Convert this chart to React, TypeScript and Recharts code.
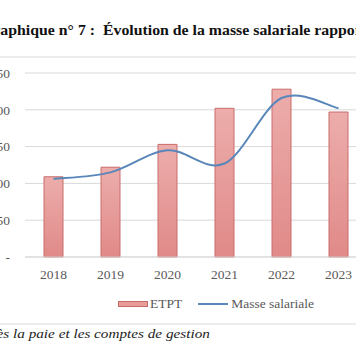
import React from "react";
import { Bar, ComposedChart, CartesianGrid, Line, XAxis, YAxis } from "recharts";

const YEARS = ["2018", "2019", "2020", "2021", "2022", "2023"];
const ETPT = [109, 122, 153, 202, 228, 197];
const MASSE_SALARIALE = [106, 115, 145, 127, 216, 202];
const Y_TICKS = [0, 50, 100, 150, 200, 250];

const data = YEARS.map((year, i) => ({
  year,
  etpt: ETPT[i],
  masse: MASSE_SALARIALE[i],
}));

const GREY = "#595959";
const BAR_STROKE = "#c96c6a";
const LINE_BLUE = "#5a87b9";

// smooth line like Excel's "lissage" (Catmull-Rom through the points)
function smoothCurve(context: any) {
  let pts: number[][] = [];
  return {
    areaStart() {},
    areaEnd() {},
    lineStart() {
      pts = [];
    },
    point(x: number, y: number) {
      pts.push([+x, +y]);
    },
    lineEnd() {
      if (!pts.length) return;
      context.moveTo(pts[0][0], pts[0][1]);
      for (let i = 0; i < pts.length - 1; i++) {
        const p0 = pts[Math.max(i - 1, 0)];
        const p1 = pts[i];
        const p2 = pts[i + 1];
        const p3 = pts[Math.min(i + 2, pts.length - 1)];
        const t = 1 / 6;
        context.bezierCurveTo(
          p1[0] + (p2[0] - p0[0]) * t,
          p1[1] + (p2[1] - p0[1]) * t,
          p2[0] - (p3[0] - p1[0]) * t,
          p2[1] - (p3[1] - p1[1]) * t,
          p2[0],
          p2[1]
        );
      }
    },
  };
}

export default function App() {
  return (
    <div
      style={{
        position: "fixed",
        left: 0,
        top: 0,
        width: 356,
        height: 364,
        overflow: "hidden",
        background: "#fff",
        fontFamily: '"Liberation Serif", "Times New Roman", serif',
      }}
    >
      <div
        style={{
          position: "absolute",
          left: -19,
          top: 24,
          fontSize: 14,
          lineHeight: "14px",
          fontWeight: 700,
          color: "#111",
          whiteSpace: "nowrap",
          transform: "scaleX(1.13)",
          transformOrigin: "left center",
        }}
      >
        Graphique n° 7 :&nbsp; Évolution de la masse salariale rapportée aux ETPT
      </div>

      <div style={{ position: "absolute", left: 0, top: 56, width: 356, height: 2, background: "#ededed" }} />

      <div style={{ position: "absolute", left: -40, top: 57 }}>
        <ComposedChart
          width={412}
          height={267}
          data={data}
          margin={{ top: 16, right: 5, left: 0, bottom: 37 }}
        >
          <defs>
            <linearGradient id="etptGradient" x1="0" y1="0" x2="0" y2="1">
              <stop offset="0%" stopColor="#ecadab" />
              <stop offset="100%" stopColor="#e08a89" />
            </linearGradient>
          </defs>
          <CartesianGrid stroke="#d9d9d9" vertical={false} />
          <XAxis
            dataKey="year"
            height={30}
            tickLine={false}
            axisLine={{ stroke: "#d9d9d9" }}
            tickMargin={6}
            tick={{ fill: GREY, fontSize: 13.5 }}
          />
          <YAxis
            width={65}
            domain={[0, 250]}
            ticks={Y_TICKS}
            tickLine={false}
            axisLine={false}
            tickMargin={9}
            tick={{ fill: GREY, fontSize: 13.5 }}
            tickFormatter={(v) => (v === 0 ? "-" : String(v))}
          />
          <Bar
            dataKey="etpt"
            name="ETPT"
            barSize={19}
            fill="url(#etptGradient)"
            stroke={BAR_STROKE}
            strokeWidth={1}
            isAnimationActive={false}
          />
          <Line
            dataKey="masse"
            name="Masse salariale"
            type={smoothCurve as any}
            stroke={LINE_BLUE}
            strokeWidth={2}
            dot={false}
            activeDot={false}
            isAnimationActive={false}
          />
        </ComposedChart>
      </div>

      <div
        style={{
          position: "absolute",
          left: 118,
          top: 296,
          display: "flex",
          alignItems: "center",
          fontSize: 13.5,
          color: GREY,
          whiteSpace: "nowrap",
        }}
      >
        <span
          style={{
            display: "inline-block",
            width: 30,
            height: 6,
            background: "#e89d9b",
            border: `1px solid ${BAR_STROKE}`,
            boxSizing: "border-box",
            marginRight: 2,
          }}
        />
        <span>ETPT</span>
        <span
          style={{
            display: "inline-block",
            width: 30,
            height: 2,
            background: LINE_BLUE,
            marginLeft: 16,
            marginRight: 3,
          }}
        />
        <span>Masse salariale</span>
      </div>

      <div style={{ position: "absolute", left: 0, top: 323, width: 356, height: 2, background: "#ededed" }} />

      <div
        style={{
          position: "absolute",
          right: 146,
          top: 327,
          fontSize: 13,
          lineHeight: "13px",
          fontStyle: "italic",
          color: "#222",
          whiteSpace: "nowrap",
          textAlign: "right",
          transform: "scaleX(1.17)",
          transformOrigin: "right center",
        }}
      >
        Source : chambre régionale des comptes d'après la paie et les comptes de gestion
      </div>
    </div>
  );
}
